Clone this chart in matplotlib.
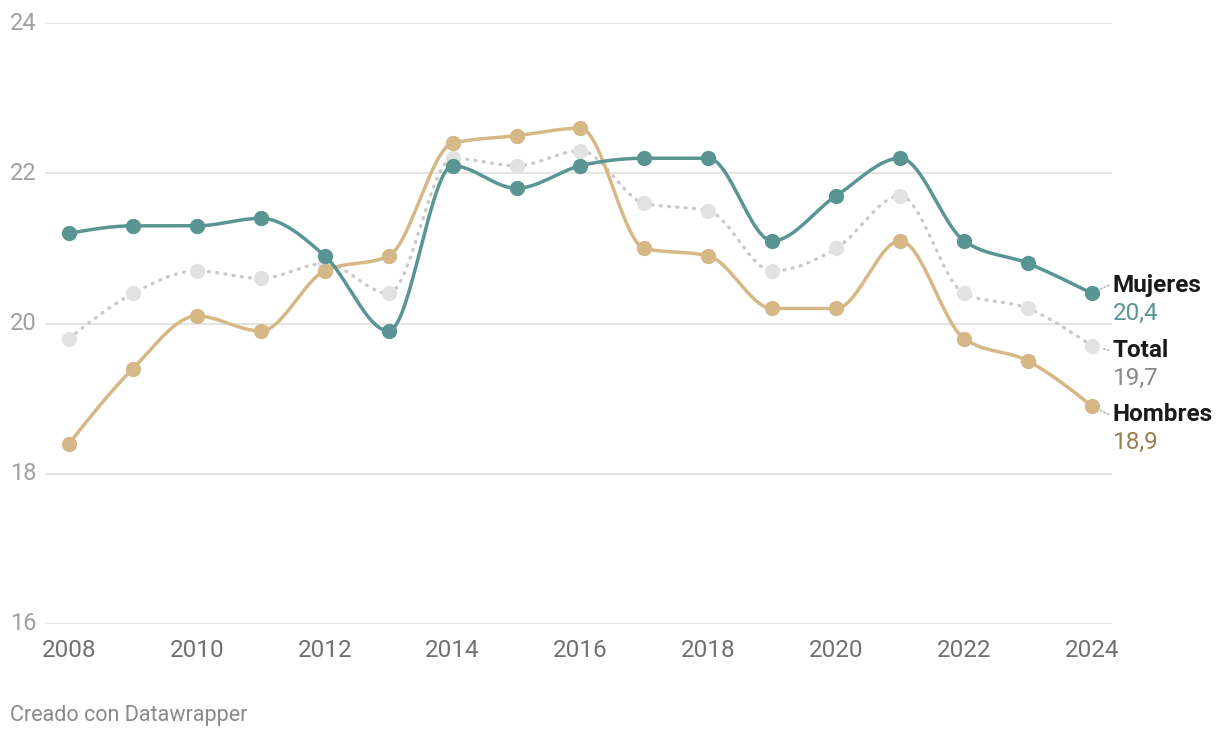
import numpy as np
import matplotlib
matplotlib.use("Agg")
import matplotlib.pyplot as plt

plt.rcParams['font.family'] = ['Roboto', 'DejaVu Sans']

years = list(range(2008, 2025))
mujeres = [21.2, 21.3, 21.3, 21.4, 20.9, 19.9, 22.1, 21.8, 22.1, 22.2, 22.2, 21.1, 21.7, 22.2, 21.1, 20.8, 20.4]
hombres = [18.4, 19.4, 20.1, 19.9, 20.7, 20.9, 22.4, 22.5, 22.6, 21.0, 20.9, 20.2, 20.2, 21.1, 19.8, 19.5, 18.9]
total = [19.8, 20.4, 20.7, 20.6, 20.8, 20.4, 22.2, 22.1, 22.3, 21.6, 21.5, 20.7, 21.0, 21.7, 20.4, 20.2, 19.7]

yticks = [16, 18, 20, 22, 24]
xticks = list(range(2008, 2025, 2))


def monotone_curve(x, y, n=30):
    # same idea as d3.curveMonotoneX
    x = np.asarray(x, float)
    y = np.asarray(y, float)
    h = np.diff(x)
    s = np.diff(y) / h
    t = np.zeros(len(x))
    for i in range(1, len(x) - 1):
        p = (s[i - 1] * h[i] + s[i] * h[i - 1]) / (h[i - 1] + h[i])
        t[i] = (np.sign(s[i - 1]) + np.sign(s[i])) * min(abs(s[i - 1]), abs(s[i]), 0.5 * abs(p))
    t[0] = (3 * s[0] - t[1]) / 2
    t[-1] = (3 * s[-1] - t[-2]) / 2
    xs, ys = [], []
    for i in range(len(x) - 1):
        u = np.linspace(0, 1, n)
        h00 = 2 * u**3 - 3 * u**2 + 1
        h10 = u**3 - 2 * u**2 + u
        h01 = -2 * u**3 + 3 * u**2
        h11 = u**3 - u**2
        xs.append(x[i] + u * h[i])
        ys.append(h00 * y[i] + h10 * h[i] * t[i] + h01 * y[i + 1] + h11 * h[i] * t[i + 1])
    return np.concatenate(xs), np.concatenate(ys)


fig = plt.figure(figsize=(12.2, 7.4), dpi=100)
ax = fig.add_axes([45 / 1220, 1 - 624 / 740, (1112 - 45) / 1220, (624 - 23) / 740])
ax.set_xlim(2008 - 24 / 63.94, 2024 + 20 / 63.94)
ax.set_ylim(16, 24)

for v in yticks:
    ax.axhline(v, color='#e3e3e3', lw=1.3, zorder=0)
    ax.text(-35 / 1067, v, str(v), transform=ax.get_yaxis_transform(), ha='left', va='center',
            fontsize=17, color='#a0a0a0')

teal = '#589593'
tan = '#d6b887'

cx, cy = monotone_curve(years, total)
ax.plot(cx, cy, color='#c9c9c9', lw=2.4, ls=(0, (0.3, 2.2)), dash_capstyle='round', zorder=2)
ax.plot(years, total, 'o', color='#e2e2e2', ms=10, zorder=2, clip_on=False)

cx, cy = monotone_curve(years, hombres)
ax.plot(cx, cy, color=tan, lw=2.5, zorder=3, solid_capstyle='round')
ax.plot(years, hombres, 'o', color=tan, ms=10, zorder=3, clip_on=False)

cx, cy = monotone_curve(years, mujeres)
ax.plot(cx, cy, color=teal, lw=2.5, zorder=4, solid_capstyle='round')
ax.plot(years, mujeres, 'o', color=teal, ms=10, zorder=4, clip_on=False)

# end labels
labels = [
    ('Mujeres', mujeres[-1], teal, 6),
    ('Total', total[-1], '#888888', -3),
    ('Hombres', hombres[-1], '#9c7d4d', -6),
]
for name, val, col, dy in labels:
    ax.annotate('', xy=(2024, val), xytext=(12, dy), textcoords='offset points',
                arrowprops=dict(arrowstyle='-', color='#b0b0b0', lw=1.1, ls=(0, (1, 1.5)),
                                shrinkA=0, shrinkB=7))
    ax.annotate(name, xy=(2024, val), xytext=(15, dy), textcoords='offset points',
                ha='left', va='center', fontsize=17.5, fontweight='bold', color='#1a1a1a')
    ax.annotate(str(val).replace('.', ','), xy=(2024, val), xytext=(15, dy - 20.5),
                textcoords='offset points', ha='left', va='center', fontsize=17.5, color=col)

ax.set_xticks(xticks)
ax.set_xticklabels([str(x) for x in xticks], fontsize=17.5, color='#707070')
ax.tick_params(axis='x', length=0, pad=11)
ax.set_yticks([])
for sp in ax.spines.values():
    sp.set_visible(False)

fig.text(10 / 1220, 1 - 716 / 740, 'Creado con Datawrapper', fontsize=15.5, color='#8a8a8a',
         ha='left', va='center')

fig.savefig('out.png', dpi=100)
